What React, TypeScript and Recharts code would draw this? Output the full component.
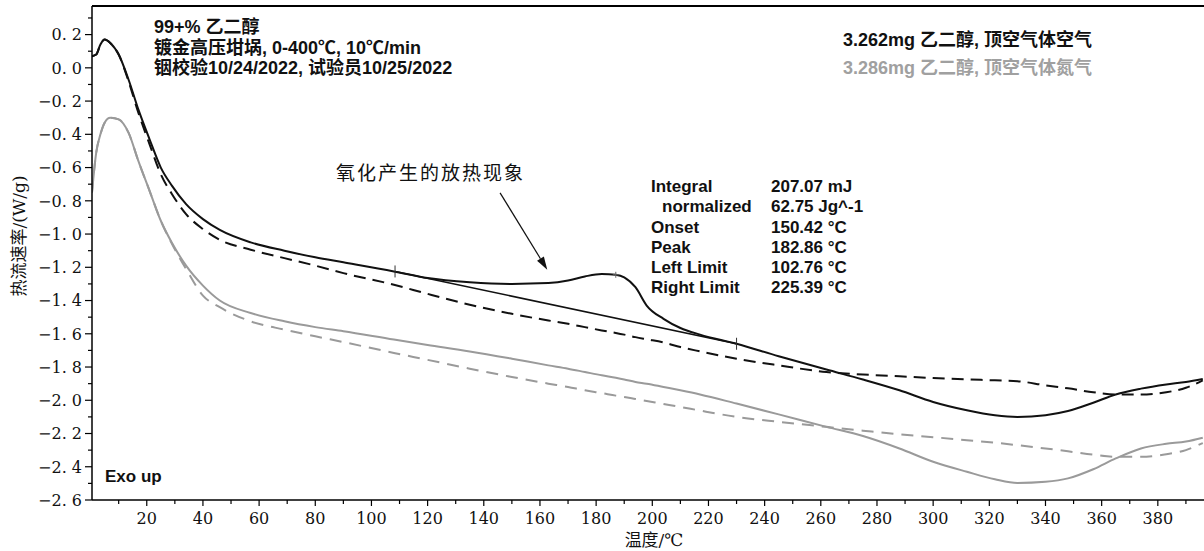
import React from "react";
import { LineChart, Line, XAxis, YAxis, ReferenceLine, ReferenceDot } from "recharts";

// temperature grid (°C) shared by the four DSC traces
const temps = [
  0.5, 2, 3.5, 5, 7, 10, 13.5, 17, 21, 25, 29, 34, 40, 46, 57, 69, 80, 90, 108, 120, 135, 150, 163,
  170, 176, 182, 187, 190, 194, 198, 204, 210, 217, 230, 245, 262, 275, 288, 300, 312, 322, 330,
  340, 348, 357, 365, 374, 383, 390, 396,
];

// heat flow (W/g) – 3.262mg, headspace air
const airSolid = [
  0.07, 0.08, 0.14, 0.17, 0.15, 0.08, -0.07, -0.25, -0.43, -0.6, -0.71, -0.82, -0.91, -0.975, -1.05,
  -1.1, -1.14, -1.17, -1.225, -1.265, -1.29, -1.3, -1.295, -1.28, -1.255, -1.24, -1.245, -1.26,
  -1.32, -1.43, -1.51, -1.565, -1.605, -1.66, -1.735, -1.815, -1.875, -1.94, -2.01, -2.06, -2.09,
  -2.1, -2.09, -2.065, -2.015, -1.965, -1.93, -1.905, -1.89, -1.872,
];
const airDash = [
  0.07, 0.08, 0.14, 0.17, 0.15, 0.08, -0.08, -0.27, -0.46, -0.64, -0.76, -0.88, -0.97, -1.035,
  -1.094, -1.145, -1.19, -1.235, -1.305, -1.36, -1.425, -1.48, -1.52, -1.54, -1.56, -1.58, -1.595,
  -1.605, -1.62, -1.633, -1.652, -1.68, -1.706, -1.75, -1.79, -1.83, -1.845, -1.856, -1.866, -1.874,
  -1.88, -1.885, -1.91, -1.928, -1.952, -1.965, -1.966, -1.952, -1.925, -1.88,
];

// heat flow (W/g) – 3.286mg, headspace nitrogen
const n2Solid = [
  -0.75, -0.51, -0.4, -0.33, -0.3, -0.31, -0.39, -0.56, -0.74, -0.92, -1.054, -1.19, -1.31, -1.4,
  -1.475, -1.525, -1.56, -1.585, -1.635, -1.667, -1.706, -1.75, -1.79, -1.81, -1.83, -1.85, -1.865,
  -1.875, -1.89, -1.9, -1.92, -1.94, -1.965, -2.02, -2.085, -2.16, -2.215, -2.29, -2.37, -2.43,
  -2.475, -2.497, -2.49, -2.47, -2.415, -2.35, -2.29, -2.262, -2.248, -2.225,
];
const n2Dash = [
  -0.75, -0.51, -0.4, -0.33, -0.3, -0.31, -0.39, -0.56, -0.74, -0.92, -1.06, -1.21, -1.37, -1.44,
  -1.525, -1.575, -1.615, -1.65, -1.715, -1.757, -1.81, -1.86, -1.9, -1.92, -1.94, -1.957, -1.972,
  -1.98, -1.992, -2.004, -2.022, -2.04, -2.062, -2.1, -2.13, -2.16, -2.183, -2.205, -2.222, -2.24,
  -2.255, -2.27, -2.29, -2.307, -2.327, -2.34, -2.34, -2.325, -2.3, -2.257,
];

// integration baseline (left / right limit marks)
const baseTemps = [108.4, 230];
const baseValues = [-1.225, -1.66];
const peakMark = [187, -1.245];

// arrow for the annotation (from, to) in °C / W/g
const arrowFrom = [145.8, -0.752];
const arrowTo = [162.6, -1.215];

const yMajor = [-2.6, -2.4, -2.2, -2.0, -1.8, -1.6, -1.4, -1.2, -1.0, -0.8, -0.6, -0.4, -0.2, 0, 0.2];
const yMinor = [-2.5, -2.3, -2.1, -1.9, -1.7, -1.5, -1.3, -1.1, -0.9, -0.7, -0.5, -0.3, -0.1, 0.1, 0.3];
const xMajor = [20, 40, 60, 80, 100, 120, 140, 160, 180, 200, 220, 240, 260, 280, 300, 320, 340, 360, 380];
const xMinor = [10, 30, 50, 70, 90, 110, 130, 150, 170, 190, 210, 230, 250, 270, 290, 310, 330, 350, 370, 390];

const integralLabels = ["Integral", "normalized", "Onset", "Peak", "Left Limit", "Right Limit"];
const integralValues = ["207.07 mJ", "62.75 Jg^-1", "150.42 °C", "182.86 °C", "102.76 °C", "225.39 °C"];

const data = temps.map((t, i) => ({
  t,
  airSolid: airSolid[i],
  airDash: airDash[i],
  n2Solid: n2Solid[i],
  n2Dash: n2Dash[i],
}));
const baseData = baseTemps.map((t, i) => ({ t, v: baseValues[i] }));

const BLACK = "#111";
const GRAY = "#9a9a9a";
const serif = "'DejaVu Serif', 'Noto Sans CJK SC', serif";
const sans = "'Liberation Sans', Arial, 'Noto Sans CJK SC', sans-serif";

const fmt = (v: number) => {
  const s = Math.abs(v).toFixed(1).replace(".", ". ");
  return (v < -1e-9 ? "\u2212" : "") + s;
};

const YTick = (props: any) => {
  const { x, y, payload } = props;
  const major = Math.round(Math.abs(payload.value) * 10) % 2 === 0;
  return (
    <g>
      <line x1={x - (major ? 7 : 4)} x2={x} y1={y} y2={y} stroke="#000" strokeWidth={1.2} />
      {major && (
        <text x={x - 10} y={y} dy="0.36em" textAnchor="end" fontFamily={serif} fontSize={16} fill="#111">
          {fmt(payload.value)}
        </text>
      )}
    </g>
  );
};

const XTick = (props: any) => {
  const { x, y, payload } = props;
  const major = payload.value % 20 === 0;
  return (
    <g>
      <line x1={x} x2={x} y1={y} y2={y + (major ? 6 : 4)} stroke="#000" strokeWidth={1.2} />
      {major && (
        <text x={x} y={y + 24} textAnchor="middle" fontFamily={serif} fontSize={16} fill="#111">
          {payload.value}
        </text>
      )}
    </g>
  );
};

const LimitMark = (props: any) => {
  const { cx, cy } = props;
  return <line x1={cx} x2={cx} y1={cy - 6} y2={cy + 6} stroke="#333" strokeWidth={1} />;
};

const PeakCross = (props: any) => {
  const { cx, cy } = props;
  return (
    <g stroke="#666" strokeWidth={1}>
      <line x1={cx - 3} x2={cx + 3} y1={cy} y2={cy} />
      <line x1={cx} x2={cx} y1={cy - 3} y2={cy + 3} />
    </g>
  );
};

const Arrow = (props: any) => {
  const { x1, y1, x2, y2 } = props;
  const a = Math.atan2(y2 - y1, x2 - x1);
  const len = 13;
  const w = 4;
  const bx = x2 - len * Math.cos(a);
  const by = y2 - len * Math.sin(a);
  const px = -Math.sin(a) * w;
  const py = Math.cos(a) * w;
  return (
    <g>
      <line x1={x1} y1={y1} x2={bx} y2={by} stroke="#111" strokeWidth={1.2} />
      <polygon points={`${x2},${y2} ${bx + px},${by + py} ${bx - px},${by - py}`} fill="#111" />
    </g>
  );
};

const boldText: React.CSSProperties = {
  position: "absolute",
  fontFamily: sans,
  fontWeight: 700,
  fontSize: 17,
  lineHeight: "20.5px",
  whiteSpace: "nowrap",
  color: "#111",
};

export default function App() {
  return (
    <div
      style={{
        position: "absolute",
        left: 0,
        top: 0,
        width: 1204,
        height: 551,
        overflow: "hidden",
        background: "#fff",
      }}
    >
      <LineChart width={1214} height={551} data={data} margin={{ top: 6, right: 0, bottom: 0, left: 0 }}>
        <XAxis
          dataKey="t"
          type="number"
          domain={[0.5, 400]}
          ticks={[...xMinor, ...xMajor].sort((a, b) => a - b)}
          interval={0}
          height={51}
          tickSize={0}
          tickMargin={0}
          tickLine={false}
          axisLine={{ stroke: "#000", strokeWidth: 1.5 }}
          tick={<XTick />}
          allowDataOverflow
        />
        <YAxis
          type="number"
          domain={[-2.6, 0.372]}
          ticks={[...yMajor, ...yMinor].sort((a, b) => a - b)}
          interval={0}
          width={92}
          tickSize={0}
          tickMargin={0}
          tickLine={false}
          axisLine={{ stroke: "#000", strokeWidth: 1.5 }}
          tick={<YTick />}
          allowDataOverflow
        />
        <ReferenceLine y={0.372} stroke="#000" strokeWidth={2} />
        <Line
          dataKey="n2Dash"
          type="monotone"
          stroke={GRAY}
          strokeWidth={2}
          strokeDasharray="12 8"
          dot={false}
          isAnimationActive={false}
        />
        <Line dataKey="n2Solid" type="monotone" stroke={GRAY} strokeWidth={2} dot={false} isAnimationActive={false} />
        <Line
          dataKey="airDash"
          type="monotone"
          stroke={BLACK}
          strokeWidth={2}
          strokeDasharray="12 7"
          dot={false}
          isAnimationActive={false}
        />
        <Line dataKey="airSolid" type="monotone" stroke={BLACK} strokeWidth={2} dot={false} isAnimationActive={false} />
        <Line
          data={baseData}
          dataKey="v"
          type="linear"
          stroke={BLACK}
          strokeWidth={1.6}
          dot={<LimitMark />}
          isAnimationActive={false}
        />
        <ReferenceDot x={peakMark[0]} y={peakMark[1]} r={3} shape={<PeakCross />} />
        <ReferenceLine
          segment={[
            { x: arrowFrom[0], y: arrowFrom[1] },
            { x: arrowTo[0], y: arrowTo[1] },
          ]}
          shape={Arrow}
          ifOverflow="visible"
        />
      </LineChart>

      <div
        style={{
          position: "absolute",
          left: 17,
          top: 236,
          transform: "translate(-50%, -50%) rotate(-90deg)",
          fontFamily: serif,
          fontSize: 17,
          whiteSpace: "nowrap",
          color: "#111",
        }}
      >
        热流速率/(W/g)
      </div>
      <div
        style={{
          position: "absolute",
          left: 654,
          top: 538,
          transform: "translate(-50%, -50%)",
          fontFamily: serif,
          fontSize: 17,
          whiteSpace: "nowrap",
          color: "#111",
        }}
      >
        温度/℃
      </div>

      <div style={{ ...boldText, fontSize: 18, left: 154, top: 17 }}>
        <div>99+% 乙二醇</div>
        <div>镀金高压坩埚, 0-400℃, 10℃/min</div>
        <div>铟校验10/24/2022, 试验员10/25/2022</div>
      </div>
      <div style={{ ...boldText, fontSize: 18, left: 843, top: 30 }}>3.262mg 乙二醇, 顶空气体空气</div>
      <div style={{ ...boldText, fontSize: 18, left: 843, top: 58, color: "#a0a0a0" }}>
        3.286mg 乙二醇, 顶空气体氮气
      </div>

      <div
        style={{
          position: "absolute",
          left: 336,
          top: 160,
          fontFamily: "'Noto Sans CJK SC', sans-serif",
          fontSize: 19,
          letterSpacing: 2,
          lineHeight: "24px",
          whiteSpace: "nowrap",
          color: "#111",
        }}
      >
        氧化产生的放热现象
      </div>

      <div style={{ ...boldText, left: 651, top: 177, lineHeight: "20.3px" }}>
        {integralLabels.map((l, i) => (
          <div key={l} style={{ paddingLeft: i === 1 ? 11 : 0 }}>
            {l}
          </div>
        ))}
      </div>
      <div style={{ ...boldText, left: 771, top: 177, lineHeight: "20.3px" }}>
        {integralValues.map((v) => (
          <div key={v}>{v}</div>
        ))}
      </div>

      <div style={{ ...boldText, left: 105, top: 467 }}>Exo up</div>
    </div>
  );
}
